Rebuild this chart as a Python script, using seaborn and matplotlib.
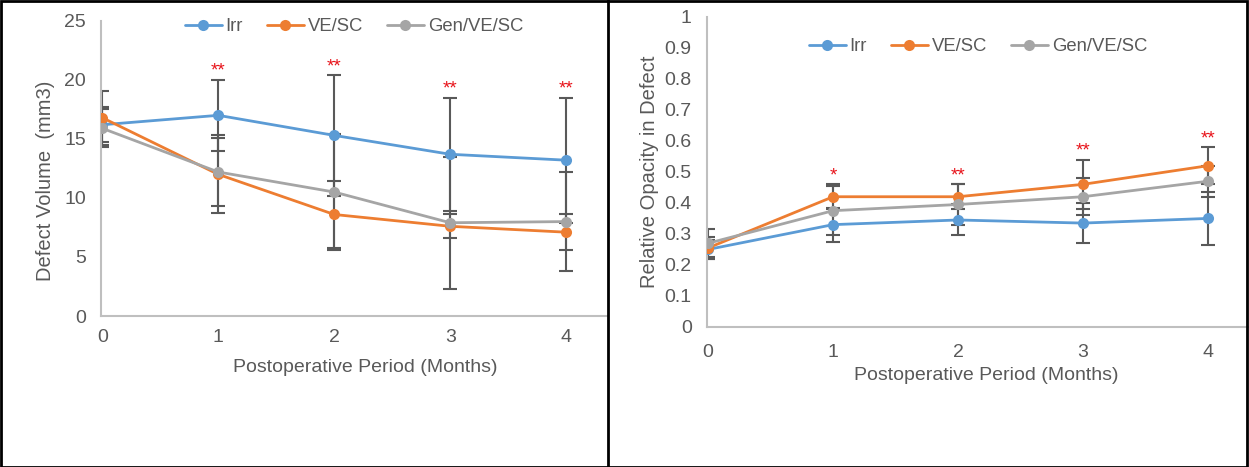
import numpy as np
import pandas as pd
import matplotlib
matplotlib.use("Agg")
import matplotlib.pyplot as plt
from matplotlib.lines import Line2D
import seaborn as sns

# Data
MONTHS = [0, 1, 2, 3, 4]
GROUPS = ["Irr", "VE/SC", "Gen/VE/SC"]
COLORS = ["#5B9BD5", "#ED7D31", "#A5A5A5"]

VOL_IRR = [16.2, 17.0, 15.3, 13.7, 13.2]
VOL_VE = [16.8, 12.0, 8.6, 7.6, 7.1]
VOL_GEN = [15.9, 12.2, 10.5, 7.9, 8.0]
VOL_SD_IRR = [1.5, 3.0, 5.1, 4.8, 5.3]
VOL_SD_VE = [2.3, 3.3, 2.8, 1.0, 1.5]
VOL_SD_GEN = [1.6, 2.9, 4.9, 5.6, 4.2]
VOL_STARS = ["", "**", "**", "**", "**"]

OPA_IRR = [0.25, 0.33, 0.345, 0.335, 0.35]
OPA_VE = [0.255, 0.42, 0.42, 0.46, 0.52]
OPA_GEN = [0.27, 0.375, 0.395, 0.42, 0.47]
OPA_SD_IRR = [0.03, 0.055, 0.05, 0.065, 0.085]
OPA_SD_VE = [0.035, 0.04, 0.04, 0.08, 0.06]
OPA_SD_GEN = [0.045, 0.08, 0.065, 0.06, 0.05]
OPA_STARS = ["", "*", "**", "**", "**"]

TEXT = "#595959"
AXIS = "#BFBFBF"
FS = 14

sns.set_style("white")
plt.rcParams["font.family"] = ["Liberation Sans", "DejaVu Sans"]
plt.rcParams["text.color"] = TEXT


def long_df(series, sds):
    rows = []
    for g, vals, sd in zip(GROUPS, series, sds):
        for m, v, s in zip(MONTHS, vals, sd):
            rows.append({"month": m, "value": v, "sd": s, "group": g})
    return pd.DataFrame(rows)


def draw_panel(ax, df, stars, ylim, yticks, ylabel, xmax, legend_y, xpad):
    sns.lineplot(data=df, x="month", y="value", hue="group", hue_order=GROUPS,
                 palette=COLORS, marker="o", markersize=8, markeredgewidth=0,
                 linewidth=2.0, errorbar=None, legend=False, ax=ax, zorder=3)
    handles = list(ax.lines[:3])
    for g in GROUPS:
        sub = df[df.group == g]
        ax.errorbar(sub.month, sub.value, yerr=sub.sd, fmt="none", ecolor="#595959",
                    elinewidth=1.5, capsize=5, capthick=1.5, zorder=2)
    tops = (df.value + df.sd).groupby(df.month).max()
    for m, s in zip(MONTHS, stars):
        if s:
            ax.annotate(s, (m, tops[m]), xytext=(0, 0), textcoords="offset points",
                        ha="center", va="bottom", color="#E8141B", fontsize=13.5)
    ax.set_xlim(-0.01, xmax)
    ax.set_ylim(*ylim)
    ax.set_yticks(yticks)
    ax.set_xticks(MONTHS)
    ax.set_xticklabels([str(m) for m in MONTHS])
    ax.tick_params(axis="both", length=0, labelsize=FS, labelcolor=TEXT)
    ax.tick_params(axis="x", pad=xpad)
    ax.tick_params(axis="y", pad=11)
    ax.set_xlabel("Postoperative Period (Months)", fontsize=FS, color=TEXT)
    ax.set_ylabel(ylabel, fontsize=14.5, color=TEXT)
    for side in ["top", "right"]:
        ax.spines[side].set_visible(False)
    for side in ["left", "bottom"]:
        ax.spines[side].set_color(AXIS)
        ax.spines[side].set_linewidth(1.5)
    ax.legend(handles, GROUPS, loc="upper center", bbox_to_anchor=(0.5, legend_y),
              ncol=3, frameon=False, fontsize=13.3, handlelength=2.0,
              columnspacing=1.3, handletextpad=0.2, labelcolor=TEXT)


fig = plt.figure(figsize=(12.49, 4.67), dpi=100)
ax1 = fig.add_axes([0.0809, 0.3233, 0.405, 0.632])
ax2 = fig.add_axes([0.566, 0.300, 0.434, 0.6636])

vol_df = long_df([VOL_IRR, VOL_VE, VOL_GEN], [VOL_SD_IRR, VOL_SD_VE, VOL_SD_GEN])
opa_df = long_df([OPA_IRR, OPA_VE, OPA_GEN], [OPA_SD_IRR, OPA_SD_VE, OPA_SD_GEN])

draw_panel(ax1, vol_df, VOL_STARS, (0, 25), np.arange(0, 26, 5),
           "Defect Volume  (mm3)", 4.35, 1.065, 9)
draw_panel(ax2, opa_df, OPA_STARS, (0, 1), np.round(np.arange(0, 1.01, 0.1), 1),
           "Relative Opacity in Defect", 4.33, 0.985, 12)
ax2.set_yticklabels(["0"] + [f"{t:.1f}" for t in np.arange(0.1, 0.95, 0.1)] + ["1"])
ax1.xaxis.set_label_coords(0.522, -0.145)
ax2.xaxis.set_label_coords(0.515, -0.13)
ax1.yaxis.set_label_coords(-0.091, 0.458)
ax2.yaxis.set_label_coords(-0.0886, 0.5)

# frame around both panels
fig.add_artist(plt.Rectangle((0.001, 0.001), 0.997, 0.997, transform=fig.transFigure,
                             fill=False, edgecolor="black", linewidth=2))
fig.add_artist(Line2D([0.4868, 0.4868], [0, 1], transform=fig.transFigure,
                      color="black", linewidth=2))

fig.savefig("out.png", dpi=100)
